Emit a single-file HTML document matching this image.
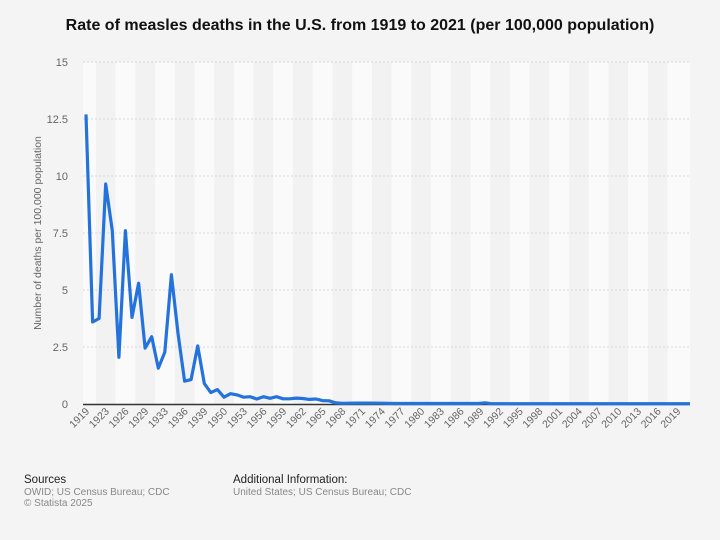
<!DOCTYPE html>
<html><head><meta charset="utf-8"><style>
body{margin:0;background:#f4f4f4;width:720px;height:535px;overflow:hidden;font-family:"Liberation Sans",sans-serif}
</style></head><body>
<svg width="720" height="535" xmlns="http://www.w3.org/2000/svg" font-family="Liberation Sans, sans-serif">
<rect width="720" height="535" fill="#f4f4f4"/>
<text x="360" y="30" text-anchor="middle" font-size="16" font-weight="bold" fill="#111">Rate of measles deaths in the U.S. from 1919 to 2021 (per 100,000 population)</text>
<rect x="83" y="62" width="607" height="342" fill="#fafafa"/>
<g fill="#f2f2f2">
<rect x="95.9" y="62" width="19.7" height="342"/><rect x="135.3" y="62" width="19.7" height="342"/><rect x="174.8" y="62" width="19.7" height="342"/><rect x="214.2" y="62" width="19.7" height="342"/><rect x="253.6" y="62" width="19.7" height="342"/><rect x="293" y="62" width="19.7" height="342"/><rect x="332.5" y="62" width="19.7" height="342"/><rect x="371.9" y="62" width="19.7" height="342"/><rect x="411.3" y="62" width="19.7" height="342"/><rect x="450.7" y="62" width="19.7" height="342"/><rect x="490.2" y="62" width="19.7" height="342"/><rect x="529.6" y="62" width="19.7" height="342"/><rect x="569" y="62" width="19.7" height="342"/><rect x="608.4" y="62" width="19.7" height="342"/><rect x="647.9" y="62" width="19.7" height="342"/>
</g>
<g stroke="#d8d8d8" stroke-dasharray="2,2" stroke-width="1">
<line x1="83" x2="690" y1="62" y2="62"/><line x1="83" x2="690" y1="119" y2="119"/><line x1="83" x2="690" y1="176" y2="176"/><line x1="83" x2="690" y1="233" y2="233"/><line x1="83" x2="690" y1="290" y2="290"/><line x1="83" x2="690" y1="347" y2="347"/>
</g>
<g font-size="11" fill="#666" text-anchor="end">
<text x="68" y="66">15</text><text x="68" y="123">12.5</text><text x="68" y="180">10</text><text x="68" y="237">7.5</text><text x="68" y="294">5</text><text x="68" y="351">2.5</text><text x="68" y="408">0</text>
</g>
<text transform="translate(41,233) rotate(-90)" text-anchor="middle" font-size="10.5" fill="#666">Number of deaths per 100,000 population</text>
<line x1="83" x2="690" y1="404.5" y2="404.5" stroke="#333" stroke-width="1.5"/>
<polyline fill="none" stroke="#2473dc" stroke-width="3.2" stroke-linejoin="round" points="86,114.4 92.6,321.9 99.1,318.5 105.7,184 112.3,230.7 118.9,357.3 125.4,230.7 132,317.4 138.6,283.2 145.1,348.1 151.7,336.7 158.3,368.2 164.8,352.2 171.4,274.7 178,333.3 184.6,381.2 191.1,379.6 197.7,345.9 204.3,383.5 210.8,392.6 217.4,389.6 224,397.2 230.5,393.7 237.1,394.9 243.7,397.2 250.2,396.7 256.8,399 263.4,396.7 270,398.3 276.5,396.7 283.1,398.8 289.7,398.8 296.2,398.1 302.8,398.5 309.4,399.4 315.9,399 322.5,400.6 329.1,400.8 335.7,402.9 342.2,403.3 355.4,403.1 368.5,403.1 381.7,403.2 395,403.5 478.4,403.5 485,402.8 491.5,403.7 690,403.7"/>
<g font-size="10.5" fill="#666" text-anchor="end">
<text transform="translate(90,412) rotate(-45)">1919</text>
<text transform="translate(109.7,412) rotate(-45)">1923</text>
<text transform="translate(129.4,412) rotate(-45)">1926</text>
<text transform="translate(149.1,412) rotate(-45)">1929</text>
<text transform="translate(168.8,412) rotate(-45)">1933</text>
<text transform="translate(188.6,412) rotate(-45)">1936</text>
<text transform="translate(208.3,412) rotate(-45)">1939</text>
<text transform="translate(228,412) rotate(-45)">1950</text>
<text transform="translate(247.7,412) rotate(-45)">1953</text>
<text transform="translate(267.4,412) rotate(-45)">1956</text>
<text transform="translate(287.1,412) rotate(-45)">1959</text>
<text transform="translate(306.8,412) rotate(-45)">1962</text>
<text transform="translate(326.5,412) rotate(-45)">1965</text>
<text transform="translate(346.2,412) rotate(-45)">1968</text>
<text transform="translate(365.9,412) rotate(-45)">1971</text>
<text transform="translate(385.7,412) rotate(-45)">1974</text>
<text transform="translate(405.4,412) rotate(-45)">1977</text>
<text transform="translate(425.1,412) rotate(-45)">1980</text>
<text transform="translate(444.8,412) rotate(-45)">1983</text>
<text transform="translate(464.5,412) rotate(-45)">1986</text>
<text transform="translate(484.2,412) rotate(-45)">1989</text>
<text transform="translate(503.9,412) rotate(-45)">1992</text>
<text transform="translate(523.6,412) rotate(-45)">1995</text>
<text transform="translate(543.3,412) rotate(-45)">1998</text>
<text transform="translate(563,412) rotate(-45)">2001</text>
<text transform="translate(582.8,412) rotate(-45)">2004</text>
<text transform="translate(602.5,412) rotate(-45)">2007</text>
<text transform="translate(622.2,412) rotate(-45)">2010</text>
<text transform="translate(641.9,412) rotate(-45)">2013</text>
<text transform="translate(661.6,412) rotate(-45)">2016</text>
<text transform="translate(681.3,412) rotate(-45)">2019</text>
</g>
<text x="24" y="483" font-size="11.5" fill="#222">Sources</text>
<text x="24" y="495" font-size="10" fill="#888">OWID; US Census Bureau; CDC</text>
<text x="24" y="506" font-size="10" fill="#888">© Statista 2025</text>
<text x="233" y="483" font-size="11.5" fill="#222">Additional Information:</text>
<text x="233" y="495" font-size="10" fill="#888">United States; US Census Bureau; CDC</text>
</svg>
</body></html>
